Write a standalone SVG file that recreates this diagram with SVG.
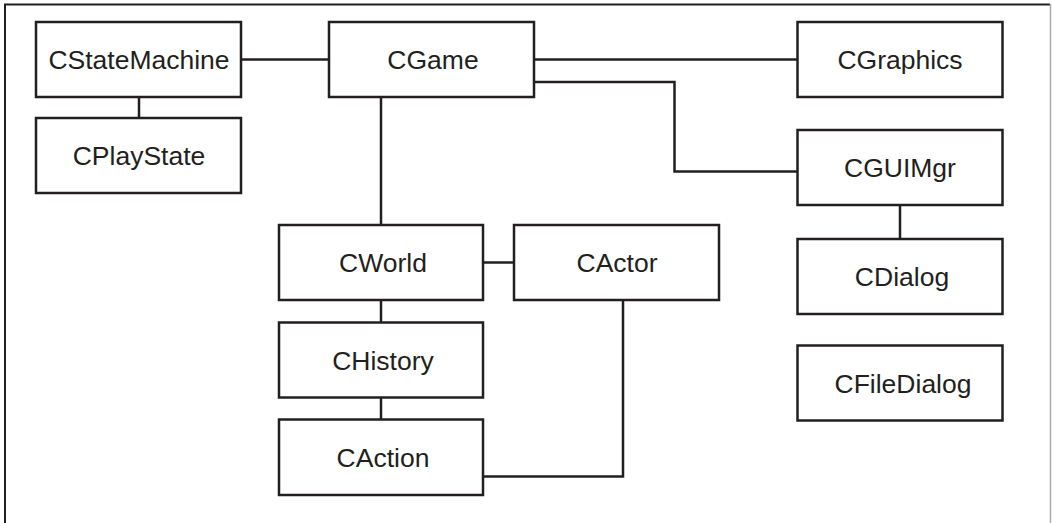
<svg xmlns="http://www.w3.org/2000/svg" width="1052" height="523" viewBox="0 0 1052 523">
<style>
.box{fill:#fff;stroke:#231f20;stroke-width:2.5}
.lbl{font-family:"Liberation Sans",Arial,sans-serif;font-size:26.5px;fill:#231f20;text-anchor:middle}
.con{fill:none;stroke:#231f20;stroke-width:2.5}
</style>
<rect width="1052" height="523" fill="#fff"/>
<path d="M5,523 V4.5 H1050" fill="none" stroke="#231f20" stroke-width="2"/>
<path d="M1050.5,4 V523" fill="none" stroke="#aaa" stroke-width="1.5"/>
<g id="connectors">
<path class="con" d="M241,59.5 H329"/>
<path class="con" d="M139,97 V118"/>
<path class="con" d="M534,59.5 H797"/>
<path class="con" d="M534,82 H674.5 V171.5 H797"/>
<path class="con" d="M900,205 V239"/>
<path class="con" d="M381,97 V225"/>
<path class="con" d="M483,262.5 H514"/>
<path class="con" d="M381,300 V322"/>
<path class="con" d="M381,397.5 V419.5"/>
<path class="con" d="M623,300 V476.5 H483"/>
</g>
<g id="CStateMachine"><rect class="box" x="36" y="22" width="205" height="75"/><text class="lbl" x="139" y="69">CStateMachine</text></g>
<g id="CPlayState"><rect class="box" x="36" y="118" width="205" height="75"/><text class="lbl" x="139" y="165">CPlayState</text></g>
<g id="CGame"><rect class="box" x="329" y="22" width="205" height="75"/><text class="lbl" x="433" y="69">CGame</text></g>
<g id="CGraphics"><rect class="box" x="797.5" y="22" width="205" height="75"/><text class="lbl" x="900" y="69">CGraphics</text></g>
<g id="CGUIMgr"><rect class="box" x="797.5" y="130" width="205" height="75"/><text class="lbl" x="900" y="177">CGUIMgr</text></g>
<g id="CDialog"><rect class="box" x="797.5" y="239" width="205" height="75"/><text class="lbl" x="902" y="286">CDialog</text></g>
<g id="CFileDialog"><rect class="box" x="797.5" y="345.5" width="205" height="75"/><text class="lbl" x="903" y="392.5">CFileDialog</text></g>
<g id="CWorld"><rect class="box" x="279" y="225" width="204" height="75"/><text class="lbl" x="383" y="272">CWorld</text></g>
<g id="CActor"><rect class="box" x="514" y="225" width="205" height="75"/><text class="lbl" x="617" y="272">CActor</text></g>
<g id="CHistory"><rect class="box" x="279" y="322.5" width="204" height="75"/><text class="lbl" x="383" y="369.5">CHistory</text></g>
<g id="CAction"><rect class="box" x="279" y="419.5" width="204" height="75.5"/><text class="lbl" x="383" y="466.5">CAction</text></g>
</svg>
